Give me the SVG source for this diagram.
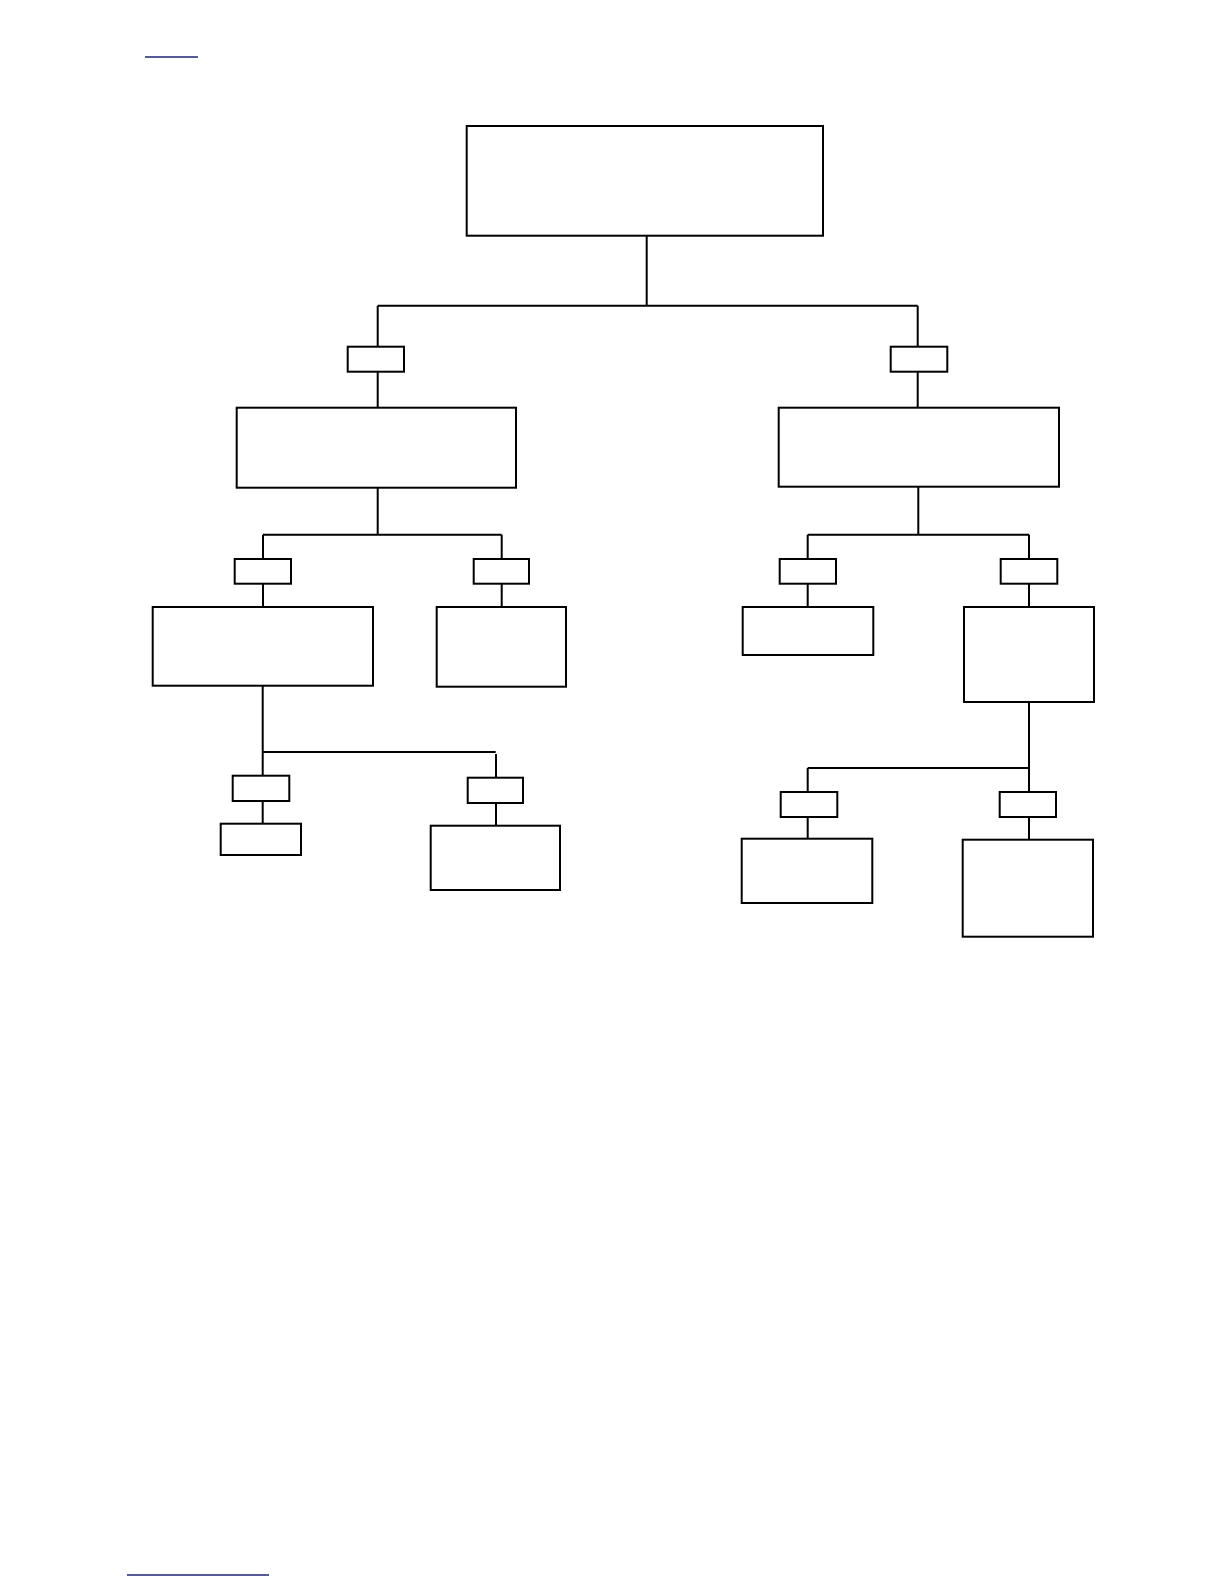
<svg xmlns="http://www.w3.org/2000/svg" width="1224" height="1584" viewBox="0 0 1224 1584">
<style>
.box{fill:#fff;stroke:#000;stroke-width:2}
.ln{fill:none;stroke:#000;stroke-width:2}
.lk{stroke:#1c237a;stroke-width:1.5}
</style>
<rect width="1224" height="1584" fill="#fff"/>
<line class="lk" x1="145" y1="57" x2="198" y2="57"/>
<line class="lk" x1="127" y1="1575" x2="269" y2="1575"/>
<g id="connectors">
<path class="ln" d="M646.7 235.7V305.7M377.7 305.7H917.7M377.7 305.7V346.7M377.7 371.7V407.7M917.7 305.7V346.7M917.7 371.7V407.7"/>
<path class="ln" d="M377.7 487.7V534.7M263 534.7H501.7M263 534.7V559M263 583.7V607M501.7 534.7V559M501.7 583.7V607"/>
<path class="ln" d="M918.3 486.7V534.7M807.7 534.7H1029M807.7 534.7V559M807.7 583.7V607M1029 534.7V559M1029 583.7V607"/>
<path class="ln" d="M262.7 685.7V775.7M262.7 752H495.7M496 754V777.7M262.7 801V823.7M496 803V825.7"/>
<path class="ln" d="M1029 702V792M807.7 768H1029M807.7 768V792M807.7 817V838.7M1029 817V839.7"/>
</g>
<g id="root"><rect class="box" x="466.7" y="126" width="356.3" height="109.7"/></g>
<g id="lab-l1"><rect class="box" x="347.7" y="346.7" width="56.3" height="25"/></g>
<g id="lab-r1"><rect class="box" x="890.7" y="346.7" width="56.6" height="25"/></g>
<g id="node-l"><rect class="box" x="236.7" y="407.7" width="279.3" height="80"/></g>
<g id="node-r"><rect class="box" x="778.7" y="407.7" width="280.3" height="79"/></g>
<g id="lab-ll"><rect class="box" x="234.7" y="559" width="56.3" height="24.7"/></g>
<g id="lab-lr"><rect class="box" x="473.7" y="559" width="55.3" height="24.7"/></g>
<g id="lab-rl"><rect class="box" x="779.7" y="559" width="56.3" height="24.7"/></g>
<g id="lab-rr"><rect class="box" x="1000.7" y="559" width="56.6" height="24.7"/></g>
<g id="node-ll"><rect class="box" x="152.7" y="607" width="220.3" height="78.7"/></g>
<g id="node-lr"><rect class="box" x="436.7" y="607" width="129.3" height="79.7"/></g>
<g id="node-rl"><rect class="box" x="742.7" y="607" width="130.6" height="48"/></g>
<g id="node-rr"><rect class="box" x="964" y="607" width="130" height="95"/></g>
<g id="lab-lll"><rect class="box" x="232.7" y="775.7" width="56.6" height="25.3"/></g>
<g id="lab-llr"><rect class="box" x="467.7" y="777.7" width="55.3" height="25.3"/></g>
<g id="node-lll"><rect class="box" x="220.7" y="823.7" width="80.3" height="31.3"/></g>
<g id="node-llr"><rect class="box" x="430.7" y="825.7" width="129.3" height="64.3"/></g>
<g id="lab-rrl"><rect class="box" x="780.7" y="792" width="56.6" height="25"/></g>
<g id="lab-rrr"><rect class="box" x="999.7" y="792" width="56.3" height="25"/></g>
<g id="node-rrl"><rect class="box" x="741.7" y="838.7" width="130.6" height="64.3"/></g>
<g id="node-rrr"><rect class="box" x="962.7" y="839.7" width="130.3" height="97"/></g>
</svg>
